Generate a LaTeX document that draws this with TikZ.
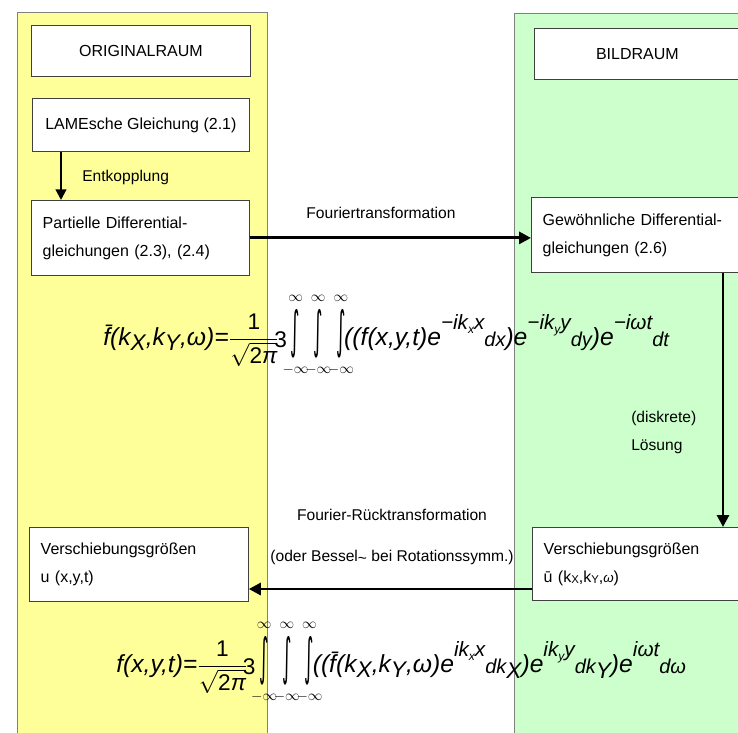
\documentclass[tikz,border=0pt]{standalone}
\usepackage{amsmath}
\usepackage{amssymb}
\usepackage{fontspec}
\setmainfont{Liberation Sans}
\newfontfamily\symfont{DejaVu Sans}
\usepackage{tikz}
\usetikzlibrary{arrows.meta}

\definecolor{origyellow}{RGB}{255,255,153}
\definecolor{bildgreen}{RGB}{204,255,204}
\definecolor{framegray}{RGB}{128,128,128}

% pieces of the two transform formulas
\newcommand\fbig{\fontsize{18.5}{20}\selectfont\itshape}
\newcommand\ex[1]{\raisebox{12pt}{\fontsize{15.5}{16}\selectfont #1}}
\newcommand\dn[1]{\raisebox{-1pt}{\fontsize{15}{15}\selectfont #1}}
\newcommand\ix[1]{\raisebox{-3pt}{\fontsize{9}{9}\selectfont #1}}
\newcommand\ks[1]{\raisebox{-4pt}{\fontsize{17}{17}\selectfont #1}}
\newcommand\frc{{\upshape\fontsize{17}{17}\selectfont$\dfrac{\text{1}}{\sqrt{\text{2\itshape π}}}$\kern-3.5pt\raisebox{-2pt}{3}}}
\newcommand\intl{\makebox[17pt][c]{\raisebox{-1.6pt}{\scalebox{0.75}[2.1]{\fontsize{18}{18}\selectfont\symfont\upshape ∫}}}%
  \llap{\makebox[17pt][c]{\raisebox{33pt}{\fontsize{10.5}{10.5}\selectfont$\infty$}}}%
  \llap{\makebox[17pt][c]{\raisebox{-21pt}{\fontsize{10.5}{10.5}\selectfont$-\infty$}}}}

\begin{document}
\begin{tikzpicture}[x=0.75pt,y=0.75pt,yscale=-1,xscale=1,
  box/.style={draw=black!75,fill=white,line width=0.6pt,inner sep=0pt,anchor=north west,font=\fontsize{12}{21}\selectfont},
  lbl/.style={inner sep=0.75pt,font=\fontsize{11.7}{14}\selectfont},
  arr/.style={line width=2.2pt,-{Triangle[length=9pt,width=9pt]}}]
\clip (0,0) rectangle (738,732);

%Shape: Rectangle (Originalraum)
\draw [framegray,fill=origyellow] (17,12) rectangle (267,745) ;
%Shape: Rectangle (Bildraum)
\draw [framegray,fill=bildgreen] (514,13) rectangle (750,745) ;

% Boxes
\node [box,minimum width=164.25pt,minimum height=38.25pt] (orig) at (31,25) {ORIGINALRAUM};
\node [box,minimum width=154.5pt,minimum height=38.25pt] (bild) at (534,28) {BILDRAUM};
\node [box,minimum width=162.75pt,minimum height=39.75pt] (lame) at (32,98) {LAMEsche Gleichung (2.1)};
\node [box,minimum width=163.5pt,minimum height=56.25pt,text width=146.5pt,inner xsep=8.5pt,align=left] (part) at (31,200) {Partielle Differential-\\gleichungen (2.3), (2.4)};
\node [box,minimum width=172.5pt,minimum height=56.25pt,text width=155.5pt,inner xsep=8.5pt,align=left] (gew) at (531,197) {Gewöhnliche Differential-\\gleichungen (2.6)};
\node [box,minimum width=164.25pt,minimum height=55.5pt,text width=147.25pt,inner xsep=8.5pt,align=left] (vleft) at (29,527) {Verschiebungsgrößen\\u (x,y,t)};
\node [box,minimum width=172.5pt,minimum height=54.75pt,text width=155.5pt,inner xsep=8pt,align=left] (vright) at (532,527) {Verschiebungsgrößen\\\={u} (k\raisebox{-1pt}{\fontsize{8.5}{9}\selectfont X},k\raisebox{-1pt}{\fontsize{8.5}{9}\selectfont Y},{\fontsize{10}{10}\selectfont\itshape ω})};

% Text Node
\node [lbl,anchor=west] (entk) at (81,177) {Entkopplung};
\node [lbl] (ft) at (381,213) {Fouriertransformation};
\node [lbl] (rft) at (392,515) {Fourier-Rücktransformation};
\node [lbl] (bessel) at (392,557) {(oder Bessel\raisebox{-2pt}{\textasciitilde} bei Rotationssymm.)};
\node [lbl,anchor=west] (diskr) at (630,418) {(diskrete)};
\node [lbl,anchor=west] (loes) at (630,447) {Lösung};

% helper coordinates
\coordinate (ek) at (61,0);
\coordinate (sol) at (723,0);
\coordinate (back) at (0,589);

%Straight Lines
\draw [line width=1.6pt,-{Triangle[length=8pt,width=8pt]}] (lame.south -| ek) -- (part.north -| ek) ;
\draw [arr] (part.east) -- (part.east -| gew.west) ;
\draw [arr] (gew.south -| sol) -- (vright.north -| sol) ;
\draw [arr] (vright.west |- back) -- (vleft.east |- back) ;

% Formulas
\node [inner sep=0pt,anchor=base west] (hin) at (103,345) {\fbig \={f}(k\ks{X},k\ks{Y},ω)=\frc\kern-2pt\intl\intl\intl\kern-6pt((f(x,y,t)e\ex{−ik\ix{x}x}\dn{dx})e\ex{−ik\ix{y}y}\dn{dy})e\ex{−iωt}\dn{dt}};
\node [inner sep=0pt,anchor=base west] (rueck) at (116,672) {\fbig f(x,y,t)=\frc\kern-2pt\intl\intl\intl\kern-6pt((\={f}(k\ks{X},k\ks{Y},ω)e\ex{ik\ix{x}x}\dn{dk\ks{X}})e\ex{ik\ix{y}y}\dn{dk\ks{Y}})e\ex{iωt}\dn{dω}};

\end{tikzpicture}
\end{document}
